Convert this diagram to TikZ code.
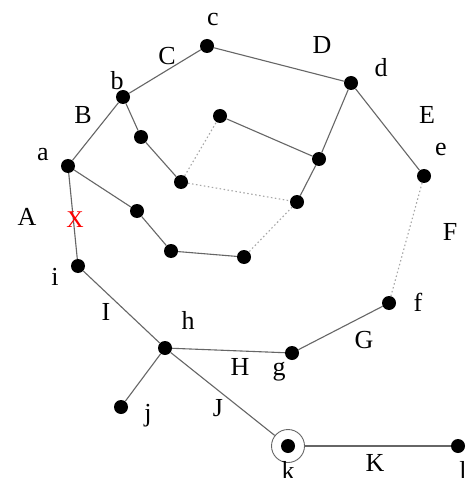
\documentclass[tikz,border=0pt]{standalone}
\usepackage{fontspec}
\setmainfont{Liberation Serif}
\begin{document}
\begin{tikzpicture}[x=1pt,y=-1pt,
  dot/.style={circle,fill=black,inner sep=0pt,minimum size=14pt},
  lbl/.style={inner sep=0pt,font=\fontsize{26}{30}\selectfont},
  edge/.style={draw=black!60,line width=1.1pt},
  dotedge/.style={draw=black!35,line width=1.1pt,dash pattern=on 1.5pt off 2.5pt},
  ring/.style={circle,draw=black!60,line width=0.9pt,inner sep=0pt,minimum size=33pt}]
\useasboundingbox (0,0) rectangle (465,478);
\clip (0,0) rectangle (465,478);
\fill[white] (0,0) rectangle (465,478);
% nodes
\node[dot] (c) at (207,46) {};
\node[dot] (d) at (351,83) {};
\node[dot] (b) at (123,97) {};
\node[dot] (a) at (68,166) {};
\node[dot] (b1) at (141,137) {};
\node[dot] (b2) at (181,182) {};
\node[dot] (p) at (220,116) {};
\node[dot] (q) at (319,159) {};
\node[dot] (r) at (297,202) {};
\node[dot] (e) at (424,176) {};
\node[dot] (s1) at (137,211) {};
\node[dot] (s2) at (171,251) {};
\node[dot] (s3) at (244,257) {};
\node[dot] (i) at (78,266) {};
\node[dot] (f) at (389,303) {};
\node[dot] (h) at (165,348) {};
\node[dot] (g) at (292,353) {};
\node[dot] (j) at (121,407) {};
\node[dot] (k) at (288,446) {};
\node[ring] (kr) at (288,446) {};
\node[dot] (l) at (458,446) {};
% solid edges
\draw[edge] (a) -- (b);
\draw[edge] (b) -- (c);
\draw[edge] (c) -- (d);
\draw[edge] (b) -- (b1);
\draw[edge] (b1) -- (b2);
\draw[edge] (p) -- (q);
\draw[edge] (d) -- (q);
\draw[edge] (q) -- (r);
\draw[edge] (d) -- (e);
\draw[edge] (a) -- (s1);
\draw[edge] (s1) -- (s2);
\draw[edge] (s2) -- (s3);
\draw[edge] (a) -- (i);
\draw[edge] (i) -- (h);
\draw[edge] (h) -- (g);
\draw[edge] (g) -- (f);
\draw[edge] (h) -- (j);
\draw[edge] (h) -- (kr);
\draw[edge] (kr) -- (l);
% dotted edges
\draw[dotedge] (b2) -- (p);
\draw[dotedge] (b2) -- (r);
\draw[dotedge] (r) -- (s3);
\draw[dotedge] (e) -- (f);
% labels
\node[lbl] (lc) at (213,20) {c};
\node[lbl] (lC) at (167,56) {C};
\node[lbl] (lD) at (322,45) {D};
\node[lbl] (ld) at (381,68) {d};
\node[lbl] (lb) at (117,81) {b};
\node[lbl] (lB) at (83,115) {B};
\node[lbl] (lE) at (427,115) {E};
\node[lbl] (la) at (43,155) {a};
\node[lbl] (le) at (441,150) {e};
\node[lbl] (lA) at (27,217) {A};
\node[lbl,text=red,font=\fontsize{24}{28}\selectfont] (X) at (75,220) {X};
\node[lbl] (lF) at (450,232) {F};
\node[lbl] (li) at (55,277) {i};
\node[lbl] (lf) at (418,302) {f};
\node[lbl] (lI) at (106,312) {I};
\node[lbl] (lh) at (188,320) {h};
\node[lbl] (lG) at (364,340) {G};
\node[lbl] (lH) at (240,367) {H};
\node[lbl] (lg) at (279,372) {g};
\node[lbl] (lj) at (148,416) {j};
\node[lbl] (lJ) at (218,408) {J};
\node[lbl] (lk) at (288,470) {k};
\node[lbl] (lK) at (375,463) {K};
\node[lbl] (ll) at (463,470) {l};
\end{tikzpicture}
\end{document}
